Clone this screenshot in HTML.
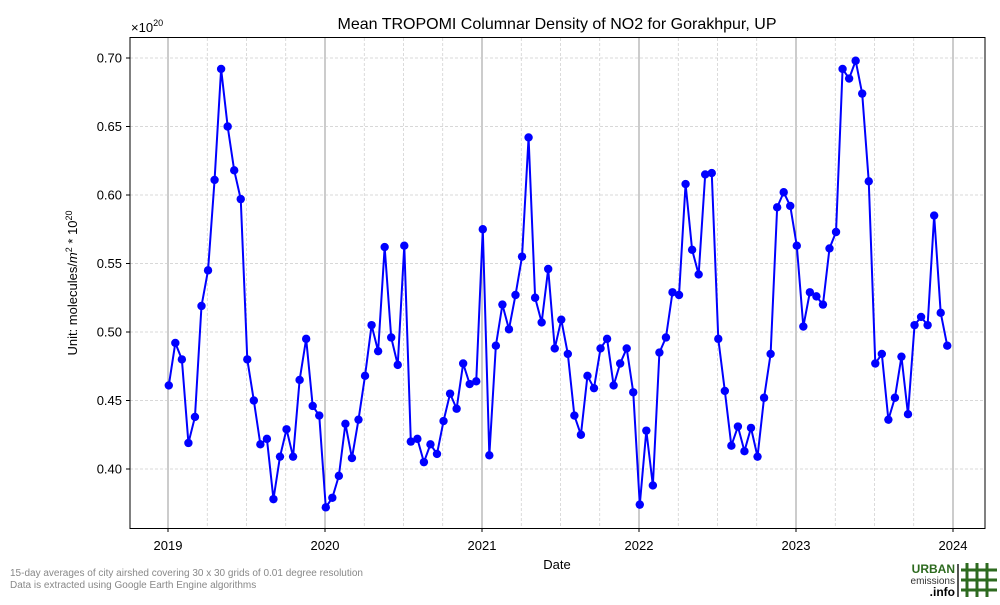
<!DOCTYPE html>
<html><head><meta charset="utf-8"><style>
body{margin:0;background:#fff;font-family:"Liberation Sans",sans-serif}
</style></head><body>
<svg id="chart" width="1000" height="600" xmlns="http://www.w3.org/2000/svg">
<g id="grid"></g>
<g id="series"></g>
<rect x="130" y="37.5" width="855" height="491" fill="none" stroke="#000" stroke-width="1"/>
<g id="axes" font-size="13" fill="#000"></g>
<text x="557" y="29" font-size="16" text-anchor="middle">Mean TROPOMI Columnar Density of NO2 for Gorakhpur, UP</text>
<text x="131" y="32" font-size="13">×10<tspan dy="-6" font-size="9">20</tspan></text>
<text x="557" y="569" font-size="13" text-anchor="middle">Date</text>
<text transform="translate(77,283) rotate(-90)" font-size="13" text-anchor="middle">Unit: molecules/<tspan font-style="italic">m</tspan><tspan dy="-5" font-size="9">2</tspan><tspan dy="5"> * 10</tspan><tspan dy="-5" font-size="9">20</tspan></text>
<text x="10" y="576" font-size="10" fill="#888">15-day averages of city airshed covering 30 x 30 grids of 0.01 degree resolution</text>
<text x="10" y="588" font-size="10" fill="#888">Data is extracted using Google Earth Engine algorithms</text>
<g>
<text x="955" y="573" font-size="12" font-weight="bold" fill="#2d6a1f" text-anchor="end">URBAN</text>
<text x="955" y="584" font-size="10" fill="#333" text-anchor="end">emissions</text>
<text x="955" y="596" font-size="12" font-weight="bold" fill="#000" text-anchor="end">.info</text>
<rect x="957" y="564" width="2" height="33" fill="#555"/>
<g stroke="#2d6a1f" stroke-width="3">
<line x1="967" y1="563" x2="967" y2="597"/><line x1="977" y1="563" x2="977" y2="597"/><line x1="987" y1="563" x2="987" y2="597"/>
<line x1="961" y1="570" x2="997" y2="570"/><line x1="961" y1="580" x2="997" y2="580"/><line x1="961" y1="590" x2="997" y2="590"/>
</g></g>
</svg>
<script>
const startYear = 2019;
const values = [
0.461,0.492,0.480,0.419,0.438,0.519,0.545,0.611,0.692,0.650,0.618,0.597,0.480,0.450,0.418,0.422,0.378,0.409,0.429,0.409,0.465,0.495,0.446,0.439,
0.372,0.379,0.395,0.433,0.408,0.436,0.468,0.505,0.486,0.562,0.496,0.476,0.563,0.420,0.422,0.405,0.418,0.411,0.435,0.455,0.444,0.477,0.462,0.464,
0.575,0.410,0.490,0.520,0.502,0.527,0.555,0.642,0.525,0.507,0.546,0.488,0.509,0.484,0.439,0.425,0.468,0.459,0.488,0.495,0.461,0.477,0.488,0.456,
0.374,0.428,0.388,0.485,0.496,0.529,0.527,0.608,0.560,0.542,0.615,0.616,0.495,0.457,0.417,0.431,0.413,0.430,0.409,0.452,0.484,0.591,0.602,0.592,
0.563,0.504,0.529,0.526,0.520,0.561,0.573,0.692,0.685,0.698,0.674,0.610,0.477,0.484,0.436,0.452,0.482,0.440,0.505,0.511,0.505,0.585,0.514,0.490];
const yTicks = [0.40,0.45,0.50,0.55,0.60,0.65,0.70];
const xTicks = [2019,2020,2021,2022,2023,2024];
const NS="http://www.w3.org/2000/svg";
const X = t => 168 + (t-2019)*157;
const Y = v => 469 - (v-0.40)/0.05*68.5;
function mk(tag, attrs, parent){const e=document.createElementNS(NS,tag);for(const k in attrs)e.setAttribute(k,attrs[k]);parent.appendChild(e);return e;}
const grid=document.getElementById('grid'), axes=document.getElementById('axes'), series=document.getElementById('series');
for(let q=2018.75;q<=2024.01;q+=0.25){
  const x=X(q); if(x<130||x>985)continue;
  const major=Math.abs(q-Math.round(q))<1e-6;
  const l=mk('line',{x1:x,x2:x,y1:38,y2:528,stroke:major?'#999':'#ccc','stroke-width':major?1:0.7,'stroke-dasharray':major?'':'3,2'},grid);
  
  
}
yTicks.forEach(v=>{
  const y=Y(v);
  const l=mk('line',{x1:130,x2:985,y1:y,y2:y,stroke:'#ccc','stroke-width':0.7,'stroke-dasharray':'3,2'},grid);
  
  
  mk('line',{x1:126,x2:130,y1:y,y2:y,stroke:'#000'},axes);
  const t=mk('text',{x:122,y:y+4.5,'text-anchor':'end'},axes);t.textContent=v.toFixed(2);
  
  
});
xTicks.forEach(yr=>{
  const x=X(yr);
  mk('line',{x1:x,x2:x,y1:528,y2:532,stroke:'#000'},axes);
  const t=mk('text',{x:x,y:550,'text-anchor':'middle'},axes);t.textContent=yr;
  
  
});
const pts=values.map((v,i)=>[X(startYear+i/24+0.005),Y(v)]);
const line=mk('polyline',{points:pts.map(p=>p.join(',')).join(' '),fill:'none',stroke:'#0000ff','stroke-width':2},series);


pts.forEach(p=>{
  const c=mk('circle',{cx:p[0],cy:p[1],r:4.2,fill:'#0000ff'},series);
  
  
});
</script>
</body></html>
